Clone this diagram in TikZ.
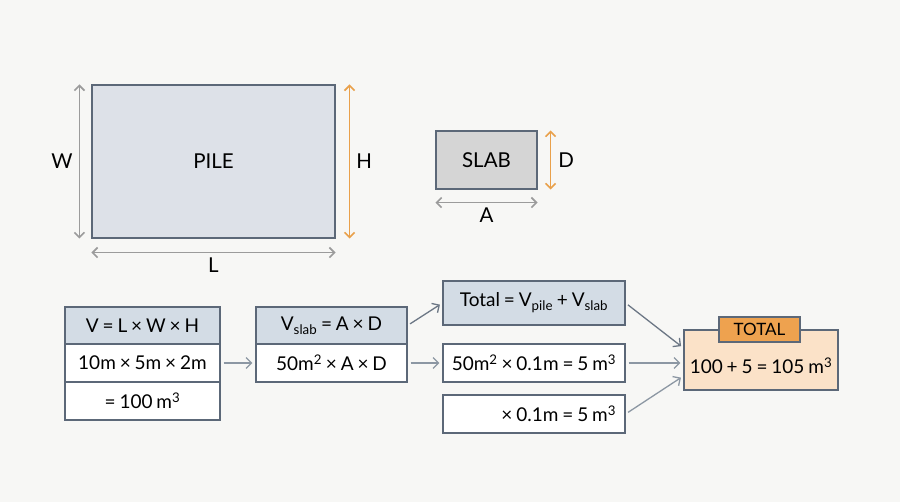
\documentclass[tikz,border=0pt]{standalone}
\usepackage{fontspec}
\setmainfont[WordSpace=0.8]{Lato}
\usepackage{xcolor}
\usetikzlibrary{arrows.meta}

\definecolor{bgc}{HTML}{F7F7F5}
\definecolor{edge}{HTML}{5C6878}
\definecolor{pilefill}{HTML}{DDE1E8}
\definecolor{slabfill}{HTML}{D5D5D5}
\definecolor{hdrfill}{HTML}{D3DCE5}
\definecolor{dimgray}{HTML}{9B9B9B}
\definecolor{dimorange}{HTML}{E9A04A}
\definecolor{linkc}{HTML}{8C97A3}
\definecolor{resfill}{HTML}{FBE2C8}
\definecolor{tagfill}{HTML}{EEA24F}

\begin{document}
\begin{tikzpicture}[x=1pt, y=-1pt, font=\fontsize{19}{22}\selectfont,
    box/.style={draw=edge, line width=1.1pt, fill=white, inner sep=0pt},
    hdr/.style={box, fill=hdrfill},
    big/.style={font=\fontsize{20.5}{24}\selectfont},
    dimg/.style={draw=dimgray, line width=1.6pt, {Straight Barb[length=5pt,width=10pt]}-{Straight Barb[length=5pt,width=10pt]}},
    dimo/.style={dimg, draw=dimorange},
    link/.style={draw=linkc, line width=1.3pt, -{Straight Barb[length=5.5pt,width=11pt]}, shorten >=3pt, shorten <=3pt}]
  \fill[bgc] (0,0) rectangle (900,502);
  \useasboundingbox (0,0) rectangle (900,502);

  % shapes
  \node[box, big, fill=pilefill, minimum width=243, minimum height=153] (pile) at (213.5,161.5) {PILE};
  \node[box, big, fill=slabfill, minimum width=101, minimum height=58] (slab) at (486.5,160) {SLAB};
  \draw[dimg] ([xshift=-12pt]pile.north west) -- ([xshift=-12pt]pile.south west) node[midway, left, big, inner sep=6pt] (w) {W};
  \draw[dimo] ([xshift=14pt]pile.north east) -- ([xshift=14pt]pile.south east) node[midway, right, big, inner sep=6pt] (h) {H};
  \draw[dimg] ([yshift=-14pt]pile.south west) -- ([yshift=-14pt]pile.south east) node[midway, below, big, inner sep=4pt] (l) {L};
  \draw[dimo] ([xshift=13pt]slab.north east) -- ([xshift=13pt]slab.south east) node[midway, right, big, inner sep=7pt] (d) {D};
  \draw[dimg] ([yshift=-13pt]slab.south west) -- ([yshift=-13pt]slab.south east) node[midway, below, big, inner sep=4pt] (a) {A};

  % pile volume
  \node[hdr, minimum width=155, minimum height=37] (v1) at (142.5,325.5) {V = L × W × H};
  \node[box, minimum width=155, minimum height=38] (v2) at (142.5,363) {10m × 5m × 2m};
  \node[box, minimum width=155, minimum height=38] (v3) at (142.5,401) {= 100 m\textsuperscript{3}};

  % slab volume
  \node[hdr, minimum width=151, minimum height=37] (s1) at (331.5,325.5) {V\textsubscript{slab} = A × D};
  \node[box, minimum width=151, minimum height=38] (s2) at (331.5,363) {50m\textsuperscript{2} × A × D};

  % sum
  \node[hdr, minimum width=182, minimum height=44] (tot) at (534,303) {Total = V\textsubscript{pile} + V\textsubscript{slab}};
  \node[box, minimum width=182, minimum height=38] (mid) at (534,363) {50m\textsuperscript{2} × 0.1m = 5 m\textsuperscript{3}};
  \node[box, minimum width=182, minimum height=38] (low) at (534,414) {\makebox[164pt][r]{× 0.1m = 5 m\textsuperscript{3}}};

  % result
  \node[box, fill=resfill, minimum width=154, minimum height=60] (res) at (761,360) {};
  \node (restxt) at (761,366) {100 + 5 = 105 m\textsuperscript{3}};
  \node[box, fill=tagfill, minimum width=81, minimum height=25, font=\fontsize{17}{20}\selectfont] (tag) at (759.5,329.5) {TOTAL};

  \draw[link] (v2.east) -- (s2.west);
  \draw[link] (s2.east) -- (mid.west);
  \draw[link, draw=edge!90] (s1.east) -- (tot.west);
  \draw[link, draw=edge!90] (tot.east) -- ([yshift=12pt]res.west);
  \draw[link] (mid.east) -- (mid.east -| res.west);
  \draw[link] (low.east) -- ([yshift=-16pt]res.west);
\end{tikzpicture}
\end{document}
